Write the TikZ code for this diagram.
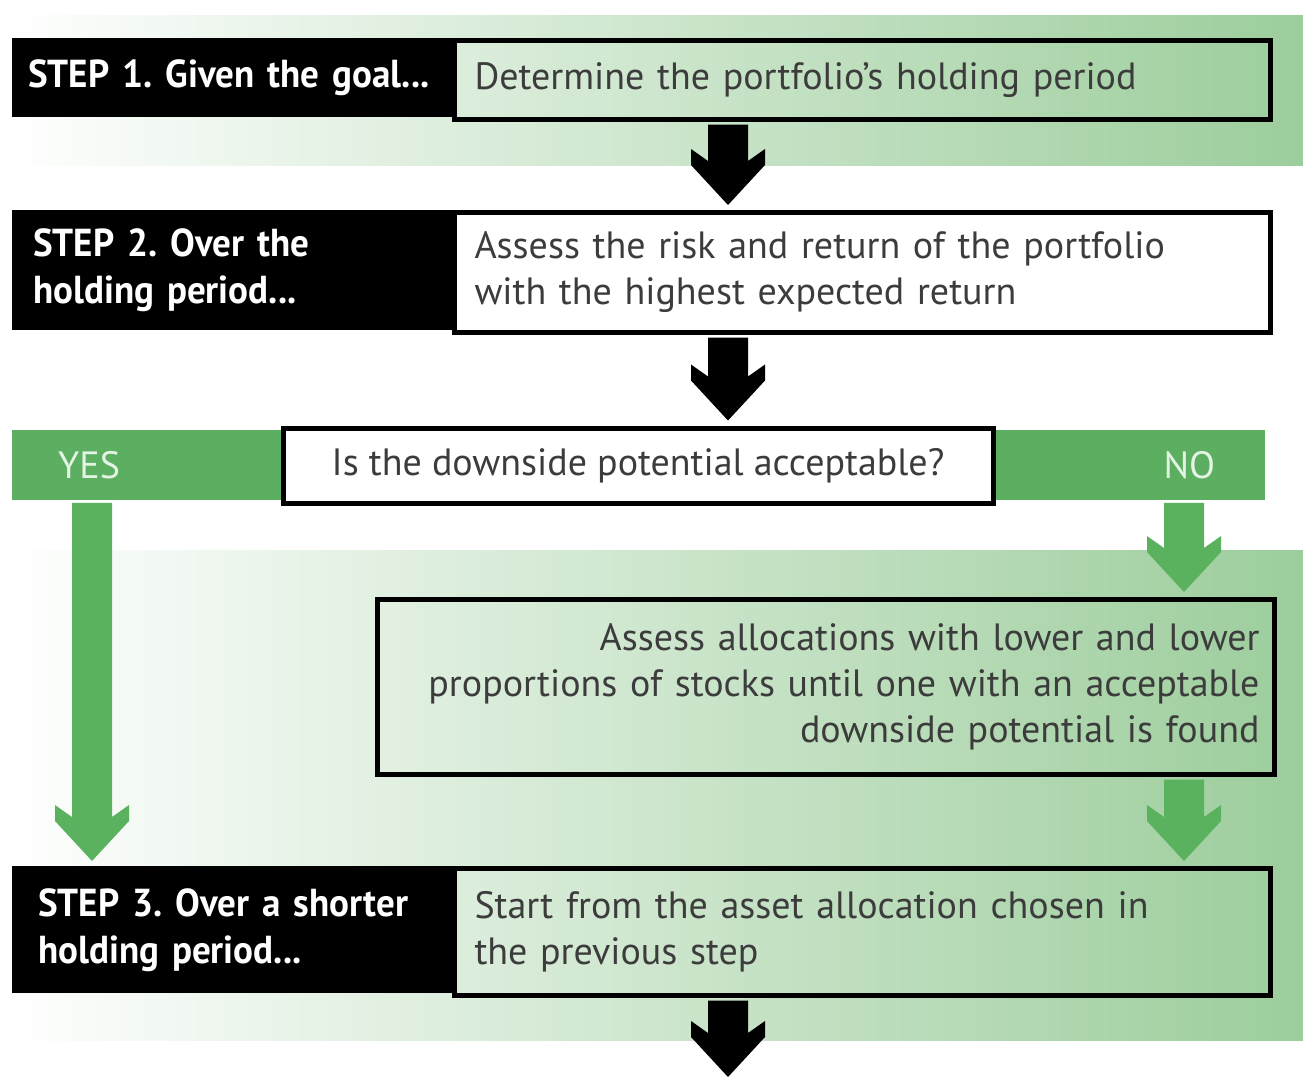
\documentclass[tikz,border=0pt]{standalone}
\usepackage{fontspec}
\setmainfont{PT Sans}
\newfontfamily\bodyfont{PT Sans}
\newfontfamily\stepfont[FakeStretch=0.95]{PT Sans}
\usetikzlibrary{calc}
\frenchspacing

\definecolor{bandgreen}{RGB}{156,205,156}
\definecolor{bargreen}{RGB}{92,174,96}
\definecolor{arrowgreen}{RGB}{90,178,95}
\definecolor{inkgray}{RGB}{60,60,60}
\definecolor{yesno}{RGB}{228,244,228}

% fat down arrow with raised barbs: colour, from, to
\newcommand{\flowarrow}[3]{%
  \fill[#1] let \p1=(#2), \p2=(#3) in
    (\x1-20pt,\y1-2.5pt) -- (\x1-20pt,\y2+49pt) -- (\x1-37pt,\y2+61pt)
    -- (\x1-37pt,\y2+45pt) -- (\x1,\y2+5pt) -- (\x1+37pt,\y2+45pt)
    -- (\x1+37pt,\y2+61pt) -- (\x1+20pt,\y2+49pt) -- (\x1+20pt,\y1-2.5pt) -- cycle;}

\begin{document}
\frenchspacing
\begin{tikzpicture}[x=1pt, y=-1pt,
    steplabel/.style={fill=black, text=white, anchor=north west, inner xsep=16pt,
      align=left, text width=408pt, font=\stepfont\bfseries\fontsize{39}{47}\selectfont},
    steptext/.style={draw=black, line width=5pt, anchor=north west, inner xsep=20pt,
      align=left, text width=776pt, text=inkgray, font=\bodyfont\fontsize{38}{46}\selectfont},
    answerbar/.style={fill=bargreen, anchor=north west, minimum height=70pt,
      text=yesno, font=\bodyfont\fontsize{38}{46}\selectfont},
    band/.style={left color=white, right color=bandgreen}]

    % --- Rahmen ---
    \useasboundingbox (0,0) rectangle (1303,1077);

    % --- Spalten der Pfeile ---
    \coordinate (maincol) at (728,0);
    \coordinate (yescol) at (92,0);
    \coordinate (nocol) at (1184,0);
    \coordinate (bottom) at (728,1082);

    % --- Hintergrundbänder ---
    \shade[band] (0,15) rectangle (1303,165);
    \shade[band] (0,550) rectangle (1303,1040);

    % --- STEP 1 ---
    \node[steplabel, minimum height=79pt] (s1lab) at (12,38) {STEP 1. Given the goal...};
    \node[steptext, minimum height=79pt] (s1txt) at (452,38) {Determine the portfolio’s holding period};

    % --- STEP 2 ---
    \node[steplabel, minimum height=120pt, inner xsep=21pt, text width=398pt] (s2lab) at (12,210) {STEP 2. Over the\\holding period...};
    \node[steptext, fill=white, minimum height=120pt] (s2txt) at (452,210)
        {Assess the risk and return of the portfolio\\with the highest expected return};

    % --- Entscheidung ---
    \node[answerbar, minimum width=271pt, inner xsep=46pt, text width=179pt, align=left] (yes) at (12,430) {YES};
    \node[answerbar, minimum width=272pt, inner xsep=50pt, text width=172pt, align=right] (no) at (993,430) {NO};
    \node[draw=black, line width=5pt, fill=white, minimum width=710pt, minimum height=75pt,
        text=inkgray, font=\bodyfont\fontsize{38}{46}\selectfont] (ask) at (638,465.5)
        {Is the downside potential acceptable?};

    % --- Suche nach geringerem Aktienanteil ---
    \node[draw=black, line width=5pt, anchor=north west, minimum height=175pt, inner xsep=15pt,
        text width=867pt, align=right, text=inkgray, font=\bodyfont\fontsize{38}{46}\selectfont] (lower) at (375,597)
        {Assess allocations with lower and lower\\proportions of stocks until one with an acceptable\\downside potential is found};

    % --- STEP 3 ---
    \node[steplabel, minimum height=127pt, inner xsep=26pt, text width=388pt] (s3lab) at (12,866) {STEP 3. Over a shorter\\holding period...};
    \node[steptext, minimum height=127pt] (s3txt) at (452,866)
        {Start from the asset allocation chosen in\\the previous step};

    % --- Pfeile ---
    \flowarrow{black}{s1txt.south -| maincol}{s2txt.north -| maincol}
    \flowarrow{black}{s2txt.south -| maincol}{ask.north -| maincol}
    \flowarrow{arrowgreen}{yes.south -| yescol}{s3lab.north -| yescol}
    \flowarrow{arrowgreen}{no.south -| nocol}{lower.north -| nocol}
    \flowarrow{arrowgreen}{lower.south -| nocol}{s3txt.north -| nocol}
    \flowarrow{black}{s3txt.south -| maincol}{bottom}

\end{tikzpicture}
\end{document}
